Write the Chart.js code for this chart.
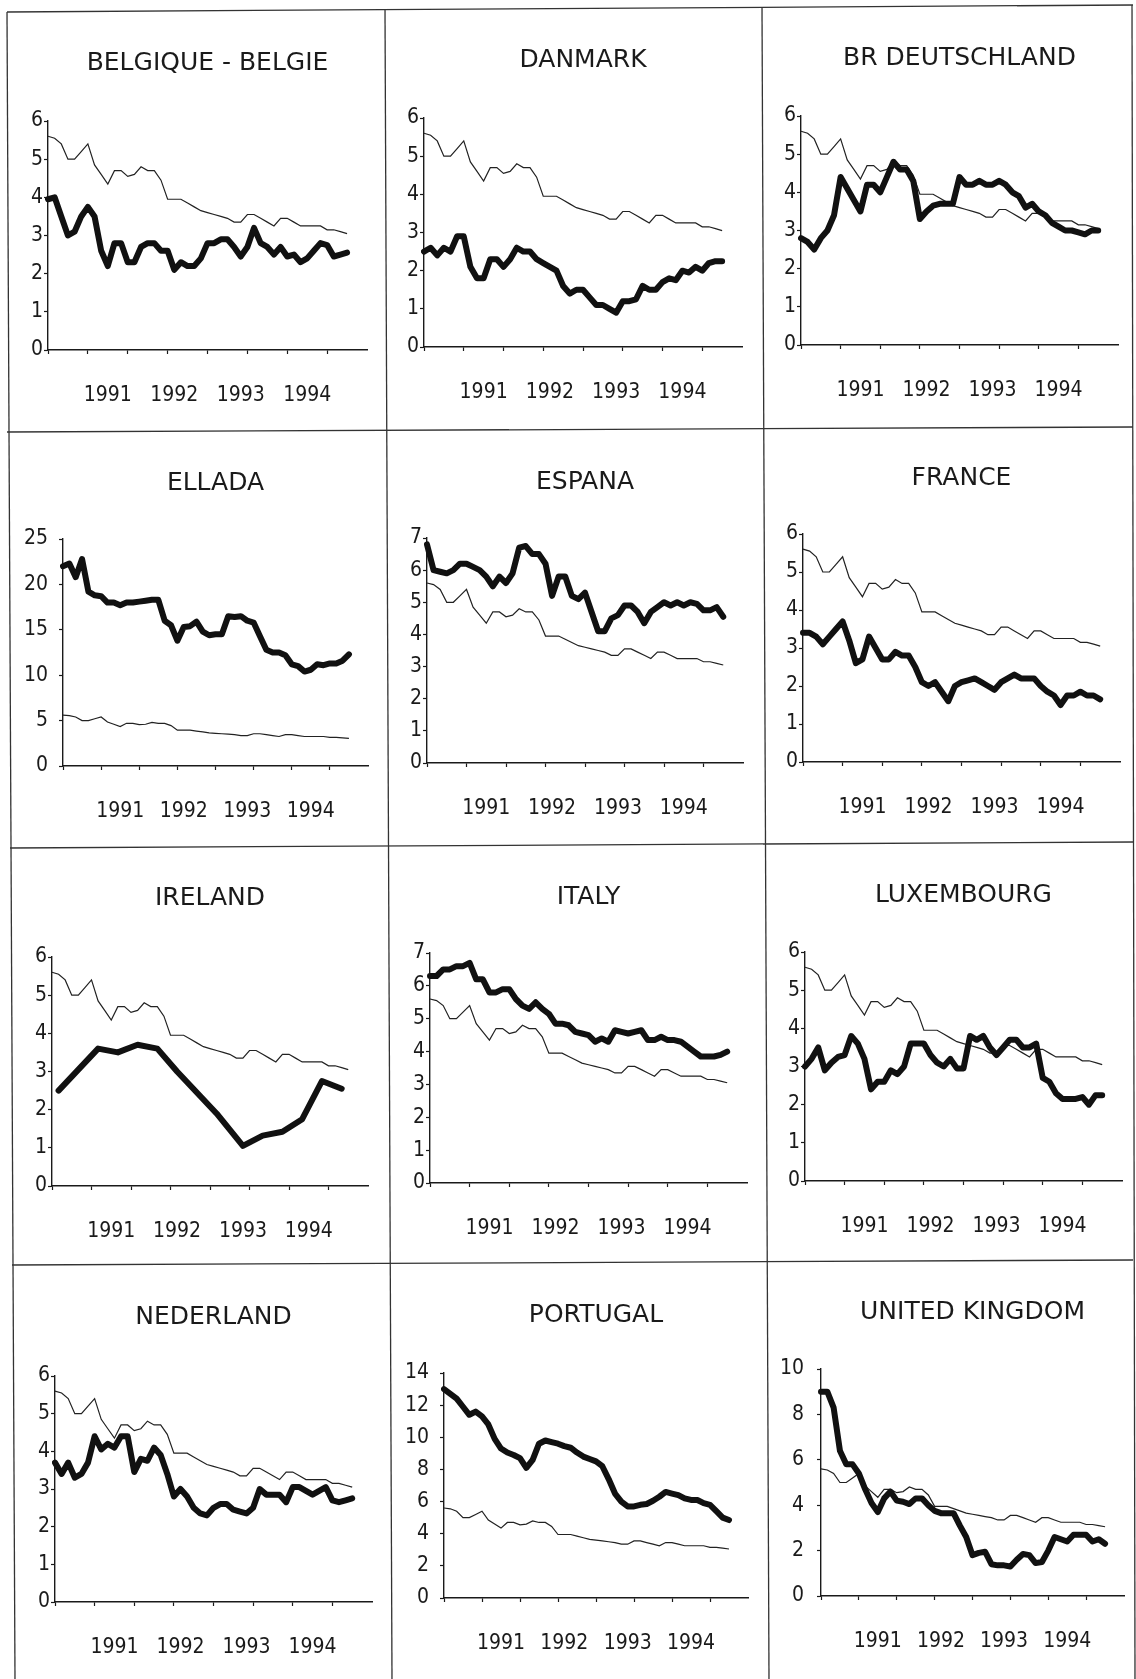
<!DOCTYPE html>
<html>
<head>
<meta charset="utf-8">
<title>Inflation by country</title>
<script src="https://cdn.jsdelivr.net/npm/chart.js@4.4.1/dist/chart.umd.min.js"></script>
<style>
  html, body { margin: 0; padding: 0; background: #fff; }
  #page { position: relative; width: 1136px; height: 1679px; overflow: hidden; background: #fff; }
  #page canvas { position: absolute; }
  #frame { position: absolute; left: 0; top: 0; }
</style>
</head>
<body>
<div id="page"></div>
<script>
// month categories on the x axis (Jan 1991 .. Jan 1995)
var monthNames = ["Jan", "Feb", "Mar", "Apr", "May", "Jun", "Jul", "Aug", "Sep", "Oct", "Nov", "Dec"];
var axisYears = ["1991", "1992", "1993", "1994", "1995"];
var yearTicks = ["1991", "1992", "1993", "1994"];
var yearTickAt = [9, 19, 29, 39];

// thin line: EU average, the same in every panel
var euAverage = [5.6, 5.55, 5.4, 5.0, 5.0, 5.2, 5.4, 4.85, 4.6, 4.35, 4.7, 4.7, 4.55, 4.6, 4.8, 4.7, 4.7, 4.45, 3.95, 3.95, 3.95, 3.85, 3.75, 3.65, 3.6, 3.55, 3.5, 3.45, 3.35, 3.35, 3.55, 3.55, 3.45, 3.35, 3.25, 3.45, 3.45, 3.35, 3.25, 3.25, 3.25, 3.25, 3.15, 3.15, 3.1, 3.05];

// thick lines: one per country
var belgique = [3.95, 4.0, 3.5, 3.0, 3.1, 3.5, 3.75, 3.5, 2.6, 2.2, 2.8, 2.8, 2.3, 2.3, 2.7, 2.8, 2.8, 2.6, 2.6, 2.1, 2.3, 2.2, 2.2, 2.4, 2.8, 2.8, 2.9, 2.9, 2.7, 2.45, 2.7, 3.2, 2.8, 2.7, 2.5, 2.7, 2.45, 2.5, 2.3, 2.4, 2.6, 2.8, 2.75, 2.45, 2.5, 2.55];
var danmark = [2.5, 2.6, 2.4, 2.6, 2.5, 2.9, 2.9, 2.1, 1.8, 1.8, 2.3, 2.3, 2.1, 2.3, 2.6, 2.5, 2.5, 2.3, 2.2, 2.1, 2.0, 1.6, 1.4, 1.5, 1.5, 1.3, 1.1, 1.1, 1.0, 0.9, 1.2, 1.2, 1.25, 1.6, 1.5, 1.5, 1.7, 1.8, 1.75, 2.0, 1.95, 2.1, 2.0, 2.2, 2.25, 2.25];
var deutschland = [2.8, 2.7, 2.5, 2.8, 3.0, 3.4, 4.4, 4.1, 3.8, 3.5, 4.2, 4.2, 4.0, 4.4, 4.8, 4.6, 4.6, 4.3, 3.3, 3.5, 3.65, 3.7, 3.7, 3.7, 4.4, 4.2, 4.2, 4.3, 4.2, 4.2, 4.3, 4.2, 4.0, 3.9, 3.6, 3.7, 3.5, 3.4, 3.2, 3.1, 3.0, 3.0, 2.95, 2.9, 3.0, 3.0];
var ellada = [22.0, 22.3, 20.8, 22.8, 19.2, 18.8, 18.7, 18.0, 18.0, 17.7, 18.0, 18.0, 18.1, 18.2, 18.3, 18.3, 16.0, 15.5, 13.8, 15.3, 15.4, 15.9, 14.8, 14.4, 14.5, 14.5, 16.5, 16.4, 16.5, 16.0, 15.8, 14.3, 12.8, 12.5, 12.5, 12.2, 11.2, 11.0, 10.4, 10.6, 11.2, 11.1, 11.3, 11.3, 11.6, 12.3];
var espana = [6.8, 6.0, 5.95, 5.9, 6.0, 6.2, 6.2, 6.1, 6.0, 5.8, 5.5, 5.8, 5.6, 5.9, 6.7, 6.75, 6.5, 6.5, 6.2, 5.2, 5.8, 5.8, 5.2, 5.1, 5.3, 4.7, 4.1, 4.1, 4.5, 4.6, 4.9, 4.9, 4.7, 4.35, 4.7, 4.85, 5.0, 4.9, 5.0, 4.9, 5.0, 4.95, 4.75, 4.75, 4.85, 4.55];
var france = [3.4, 3.4, 3.3, 3.1, 3.3, 3.5, 3.7, 3.2, 2.6, 2.7, 3.3, 3.0, 2.7, 2.7, 2.9, 2.8, 2.8, 2.5, 2.1, 2.0, 2.1, 1.85, 1.6, 2.0, 2.1, 2.15, 2.2, 2.1, 2.0, 1.9, 2.1, 2.2, 2.3, 2.2, 2.2, 2.2, 2.0, 1.85, 1.75, 1.5, 1.75, 1.75, 1.85, 1.75, 1.75, 1.65];
var ireland = [null, 2.5, null, null, 3.05, null, null, 3.6, null, null, 3.5, null, null, 3.7, null, null, 3.6, null, null, 3.0, null, null, 2.45, null, null, 1.9, null, null, null, 1.05, null, null, 1.32, null, null, 1.42, null, null, 1.75, null, null, 2.75, null, null, 2.55, null];
var italy = [6.3, 6.3, 6.5, 6.5, 6.6, 6.6, 6.7, 6.2, 6.2, 5.8, 5.8, 5.9, 5.9, 5.6, 5.4, 5.3, 5.5, 5.3, 5.15, 4.85, 4.85, 4.8, 4.6, 4.55, 4.5, 4.3, 4.4, 4.3, 4.65, 4.6, 4.55, 4.6, 4.65, 4.35, 4.35, 4.45, 4.35, 4.35, 4.3, 4.15, 4.0, 3.85, 3.85, 3.85, 3.9, 4.0];
var luxembourg = [3.0, 3.2, 3.5, 2.9, 3.1, 3.25, 3.3, 3.8, 3.6, 3.2, 2.4, 2.6, 2.6, 2.9, 2.8, 3.0, 3.6, 3.6, 3.6, 3.3, 3.1, 3.0, 3.2, 2.95, 2.95, 3.8, 3.7, 3.8, 3.5, 3.3, 3.5, 3.7, 3.7, 3.5, 3.5, 3.6, 2.7, 2.6, 2.3, 2.15, 2.15, 2.15, 2.2, 2.0, 2.25, 2.25];
var nederland = [3.7, 3.4, 3.7, 3.3, 3.4, 3.7, 4.4, 4.05, 4.2, 4.1, 4.4, 4.4, 3.45, 3.8, 3.75, 4.1, 3.9, 3.4, 2.8, 3.0, 2.8, 2.5, 2.35, 2.3, 2.5, 2.6, 2.6, 2.45, 2.4, 2.35, 2.5, 3.0, 2.85, 2.85, 2.85, 2.65, 3.05, 3.05, 2.95, 2.85, 2.95, 3.05, 2.7, 2.65, 2.7, 2.75];
var portugal = [13.0, 12.7, 12.4, 11.9, 11.4, 11.6, 11.3, 10.8, 9.9, 9.3, 9.05, 8.9, 8.7, 8.1, 8.6, 9.6, 9.8, 9.7, 9.6, 9.45, 9.35, 9.05, 8.8, 8.65, 8.5, 8.2, 7.4, 6.5, 6.0, 5.7, 5.7, 5.8, 5.85, 6.05, 6.3, 6.6, 6.5, 6.4, 6.2, 6.1, 6.1, 5.9, 5.8, 5.4, 5.0, 4.85];
var unitedKingdom = [9.0, 9.0, 8.3, 6.4, 5.8, 5.8, 5.4, 4.7, 4.1, 3.7, 4.3, 4.6, 4.2, 4.15, 4.05, 4.3, 4.3, 4.0, 3.75, 3.65, 3.65, 3.65, 3.1, 2.6, 1.8, 1.9, 1.95, 1.4, 1.35, 1.35, 1.3, 1.6, 1.85, 1.8, 1.45, 1.5, 2.0, 2.6, 2.5, 2.4, 2.7, 2.7, 2.7, 2.4, 2.5, 2.3];

var titles = ["BELGIQUE - BELGIE", "DANMARK", "BR DEUTSCHLAND", "ELLADA", "ESPANA", "FRANCE",
              "IRELAND", "ITALY", "LUXEMBOURG", "NEDERLAND", "PORTUGAL", "UNITED KINGDOM"];
var countrySeries = [belgique, danmark, deutschland, ellada, espana, france,
                     ireland, italy, luxembourg, nederland, portugal, unitedKingdom];
var yMax = [6, 6, 6, 25, 7, 6, 6, 7, 6, 6, 14, 10];
var yStep = [1, 1, 1, 5, 1, 1, 1, 1, 1, 1, 2, 2];

// page layout (pixels): cell = [left, top, right, bottom], plot = [left, top, right, bottom], title centre y
var cells = [
  [8, 11, 384, 431], [384, 11, 762, 431], [762, 11, 1133, 431],
  [8, 431, 384, 846], [384, 431, 762, 846], [762, 431, 1133, 846],
  [8, 846, 384, 1263], [384, 846, 762, 1263], [762, 846, 1133, 1263],
  [8, 1263, 384, 1679], [384, 1263, 762, 1679], [762, 1263, 1133, 1679]
];
var plots = [
  [48, 121, 367, 350], [424, 118, 742, 347], [801, 116, 1118, 345],
  [63, 539, 368, 766], [427, 538, 743, 763], [803, 534, 1120, 762],
  [52, 957, 368, 1186], [430, 953, 747, 1183], [805, 952, 1122, 1181],
  [55, 1376, 372, 1602], [444, 1373, 748, 1598], [821, 1369, 1125, 1596]
];
var titleY = [63, 60, 58, 483, 482, 478, 898, 897, 895, 1317, 1315, 1312];
var yLabelGap = [1, 1, 1, 11, 1, 1, 1, 1, 1, 1, 11, 13];

var months = [];
axisYears.forEach(function (y) {
  monthNames.forEach(function (m) { months.push(m + " " + y); });
});
months = months.slice(0, 49);

var PAD_L = 2;
var X_AXIS_H = 64;
var TITLE_SIZE = 25;
var TITLE_LH = TITLE_SIZE * 1.2;
var INK = "#1a1a1a";

Chart.defaults.font.family = "'Liberation Sans Narrow', 'DejaVu Sans Condensed', 'Liberation Sans', sans-serif";
Chart.defaults.color = INK;

var page = document.getElementById("page");

function makePanel(i) {
  var cell = cells[i], plot = plots[i];
  var w = cell[2] - cell[0], h = cell[3] - cell[1];
  var yAxisW = plot[0] - cell[0] - PAD_L;
  var canvas = document.createElement("canvas");
  canvas.width = w;
  canvas.height = h;
  canvas.style.left = cell[0] + "px";
  canvas.style.top = cell[1] + "px";
  canvas.style.width = w + "px";
  canvas.style.height = h + "px";
  page.appendChild(canvas);

  var titlePadTop = titleY[i] - cell[1] - TITLE_LH / 2;
  var titlePadBottom = plot[1] - cell[1] - titlePadTop - TITLE_LH;

  new Chart(canvas, {
    type: "line",
    data: {
      labels: months,
      datasets: [
        {
          data: countrySeries[i],
          borderColor: "#111",
          borderWidth: 6,
          pointRadius: 0,
          tension: 0,
          spanGaps: true,
          borderJoinStyle: "round",
          borderCapStyle: "round",
        },
        {
          data: euAverage,
          borderColor: "#222",
          borderWidth: 1.2,
          pointRadius: 0,
          tension: 0,
        },
      ],
    },
    options: {
      responsive: false,
      animation: false,
      events: [],
      layout: {
        padding: {
          left: PAD_L,
          right: cell[2] - plot[2],
          top: 0,
          bottom: cell[3] - plot[3] - X_AXIS_H,
        },
      },
      plugins: {
        legend: { display: false },
        tooltip: { enabled: false },
        title: {
          display: true,
          text: titles[i],
          fullSize: false,
          color: INK,
          font: { family: "'DejaVu Sans', sans-serif", size: TITLE_SIZE, weight: "normal", lineHeight: 1.2 },
          padding: { top: titlePadTop, bottom: titlePadBottom },
        },
      },
      scales: {
        x: {
          type: "category",
          offset: false,
          afterFit: function (scale) { scale.height = X_AXIS_H; },
          border: { display: true, color: INK, width: 1.4 },
          grid: {
            drawOnChartArea: false,
            drawTicks: true,
            tickLength: 4,
            tickWidth: 1.2,
            tickColor: function (ctx) {
              return ctx.index % 6 === 0 && ctx.index < 48 ? INK : "rgba(0,0,0,0)";
            },
          },
          ticks: {
            autoSkip: false,
            maxRotation: 0,
            minRotation: 0,
            padding: 9,
            font: { size: 21, lineHeight: 3.1 },
            callback: function (value, index) {
              var k = yearTickAt.indexOf(index);
              return k >= 0 ? yearTicks[k] : "";
            },
          },
        },
        y: {
          min: 0,
          max: yMax[i],
          afterFit: function (scale) { scale.width = yAxisW; },
          border: { display: true, color: INK, width: 1.4 },
          grid: {
            drawOnChartArea: false,
            tickLength: 4,
            tickWidth: 1.2,
            tickColor: INK,
          },
          ticks: {
            stepSize: yStep[i],
            padding: yLabelGap[i],
            font: { size: 21 },
          },
        },
      },
    },
  });
}

for (var i = 0; i < 12; i++) makePanel(i);

// the scanned page frame (slightly skewed)
var svgNS = "http://www.w3.org/2000/svg";
var svg = document.createElementNS(svgNS, "svg");
svg.setAttribute("id", "frame");
svg.setAttribute("width", "1136");
svg.setAttribute("height", "1679");
var frameLines = [
  [7, 12, 15, 1679], [385, 9, 392, 1679], [762, 7, 769, 1679], [1132, 5, 1135, 1679],
  [7, 12, 1133, 5], [7, 432, 1133, 427], [10, 848, 1133, 842], [12, 1265, 1133, 1260]
];
frameLines.forEach(function (l) {
  var line = document.createElementNS(svgNS, "line");
  line.setAttribute("x1", l[0]);
  line.setAttribute("y1", l[1]);
  line.setAttribute("x2", l[2]);
  line.setAttribute("y2", l[3]);
  line.setAttribute("stroke", "#333");
  line.setAttribute("stroke-width", "1.3");
  svg.appendChild(line);
});
page.appendChild(svg);
</script>
</body>
</html>
